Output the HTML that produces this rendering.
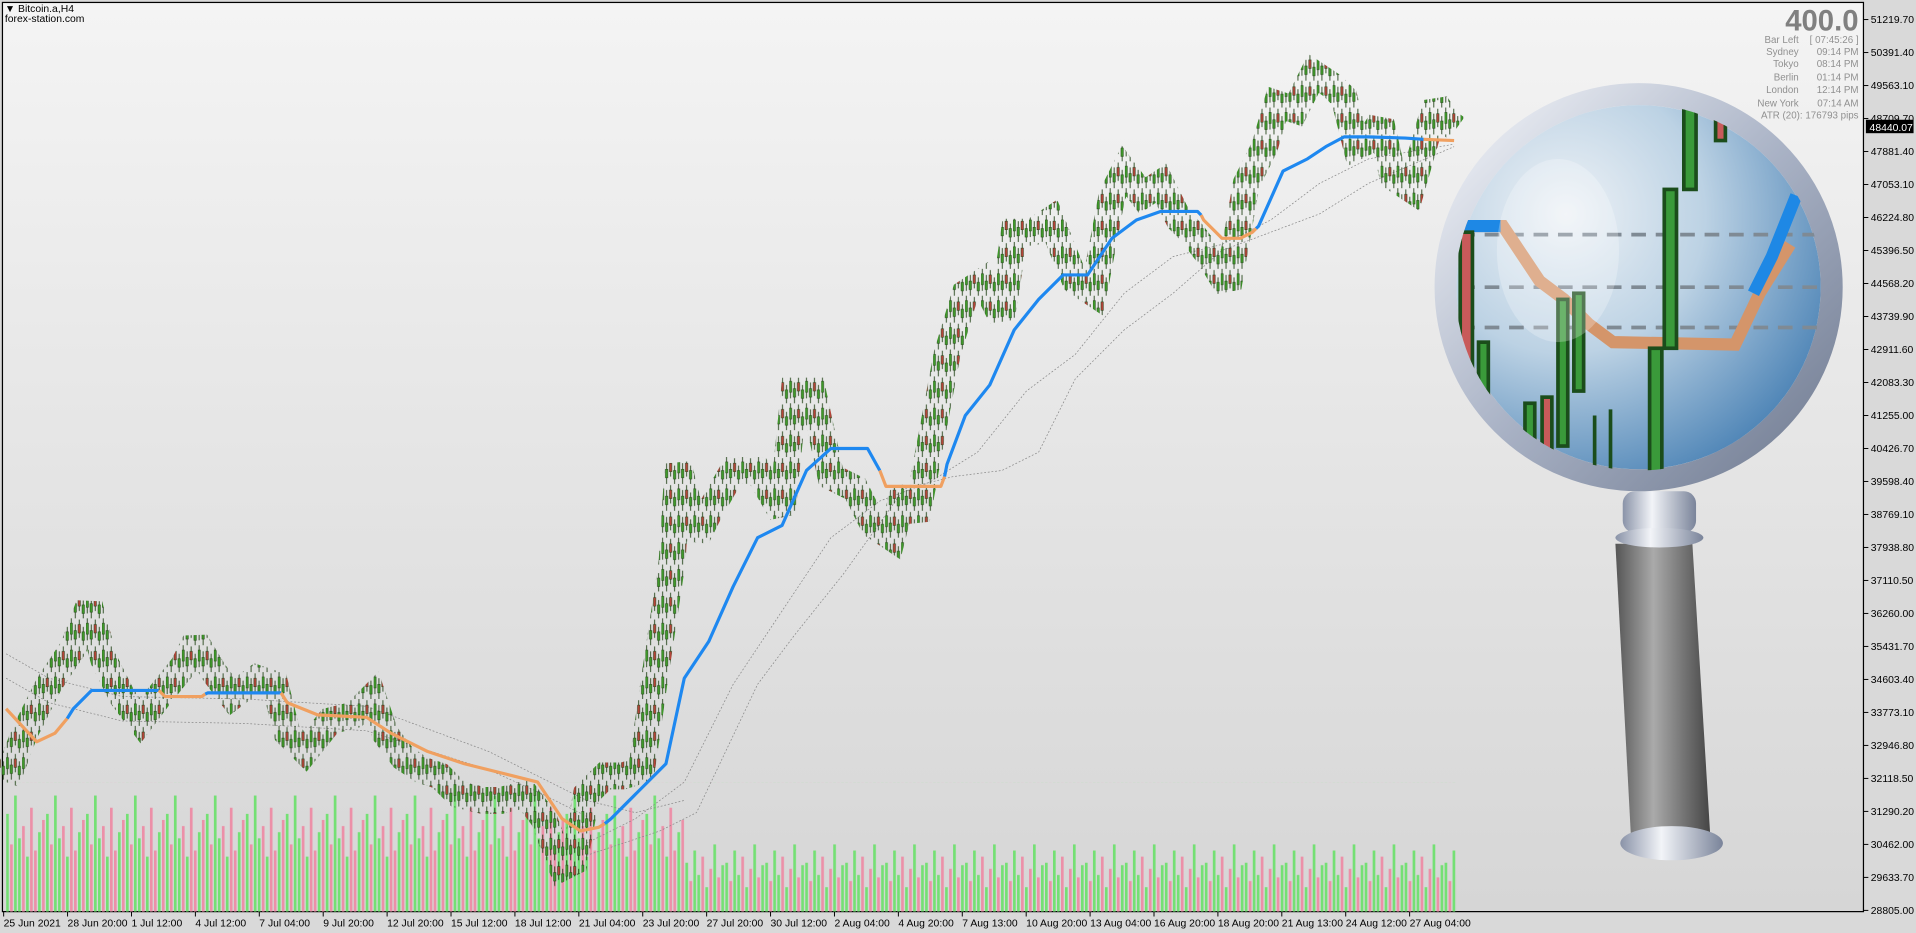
<!DOCTYPE html>
<html><head><meta charset="utf-8"><style>
html,body{margin:0;padding:0;width:1916px;height:933px;overflow:hidden;background:#d9d9d9}
svg{display:block}
text{font-family:"Liberation Sans",sans-serif}
</style></head><body>
<svg width="1916" height="933" viewBox="0 0 1568 763.5" preserveAspectRatio="none" xmlns="http://www.w3.org/2000/svg">
<defs>
<linearGradient id="bg" x1="0" y1="0" x2="0" y2="1"><stop offset="0" stop-color="#f4f4f4"/><stop offset="1" stop-color="#d6d6d6"/></linearGradient>
<radialGradient id="lens" cx="0.3" cy="0.3" r="0.85"><stop offset="0" stop-color="#eef2f6"/><stop offset="0.45" stop-color="#bcd2e4"/><stop offset="1" stop-color="#3f7ab0"/></radialGradient>
<linearGradient id="ring" x1="0" y1="0" x2="1" y2="1"><stop offset="0" stop-color="#f4f6fa"/><stop offset="0.5" stop-color="#aab3c6"/><stop offset="1" stop-color="#6f7a90"/></linearGradient>
<linearGradient id="hand" x1="0" y1="0" x2="1" y2="0"><stop offset="0" stop-color="#555"/><stop offset="0.4" stop-color="#aaa"/><stop offset="1" stop-color="#444"/></linearGradient>
<linearGradient id="col" x1="0" y1="0" x2="1" y2="0"><stop offset="0" stop-color="#8a93a8"/><stop offset="0.4" stop-color="#f2f4f8"/><stop offset="1" stop-color="#7a849a"/></linearGradient>
<clipPath id="lc"><circle cx="1341" cy="235" r="150"/></clipPath>
<pattern id="cp" patternUnits="userSpaceOnUse" x="5" y="0" width="13.08" height="22">
<line x1="1" y1="0" x2="1" y2="18" stroke="#1b3d10" stroke-width="0.7"/>
<rect x="0" y="4" width="2" height="9" fill="#3f9a2a" stroke="#1b3d10" stroke-width="0.4"/>
<line x1="4.27" y1="5" x2="4.27" y2="22" stroke="#1b3d10" stroke-width="0.7"/>
<rect x="3.27" y="10" width="2" height="7" fill="#3f9a2a" stroke="#1b3d10" stroke-width="0.4"/>
<line x1="7.54" y1="1" x2="7.54" y2="16" stroke="#1b3d10" stroke-width="0.7"/>
<rect x="6.54" y="5" width="2" height="7" fill="#b5443a" stroke="#1b3d10" stroke-width="0.4"/>
<line x1="10.81" y1="7" x2="10.81" y2="22" stroke="#1b3d10" stroke-width="0.7"/>
<rect x="9.81" y="11" width="2" height="7" fill="#3f9a2a" stroke="#1b3d10" stroke-width="0.4"/>
</pattern>
<pattern id="v1" patternUnits="userSpaceOnUse" x="5" y="640" width="32.7" height="106">
<rect x="0" y="26" width="2.2" height="80" fill="#74e074"/>
<rect x="3.27" y="51" width="2.2" height="55" fill="#ec90a8"/>
<rect x="6.54" y="11" width="2.2" height="95" fill="#74e074"/>
<rect x="9.81" y="46" width="2.2" height="60" fill="#74e074"/>
<rect x="13.08" y="36" width="2.2" height="70" fill="#ec90a8"/>
<rect x="16.35" y="61" width="2.2" height="45" fill="#74e074"/>
<rect x="19.62" y="21" width="2.2" height="85" fill="#ec90a8"/>
<rect x="22.89" y="56" width="2.2" height="50" fill="#ec90a8"/>
<rect x="26.16" y="41" width="2.2" height="65" fill="#74e074"/>
<rect x="29.43" y="31" width="2.2" height="75" fill="#ec90a8"/>
</pattern>
<pattern id="v2" patternUnits="userSpaceOnUse" x="5" y="640" width="32.7" height="106">
<rect x="0" y="66" width="2.2" height="40" fill="#74e074"/>
<rect x="3.27" y="81" width="2.2" height="25" fill="#ec90a8"/>
<rect x="6.54" y="56" width="2.2" height="50" fill="#74e074"/>
<rect x="9.81" y="76" width="2.2" height="30" fill="#74e074"/>
<rect x="13.08" y="61" width="2.2" height="45" fill="#ec90a8"/>
<rect x="16.35" y="86" width="2.2" height="20" fill="#74e074"/>
<rect x="19.62" y="71" width="2.2" height="35" fill="#ec90a8"/>
<rect x="22.89" y="51" width="2.2" height="55" fill="#74e074"/>
<rect x="26.16" y="78" width="2.2" height="28" fill="#ec90a8"/>
<rect x="29.43" y="68" width="2.2" height="38" fill="#74e074"/>
</pattern>
</defs>
<rect x="0" y="0" width="1568" height="763.5" fill="#d9d9d9"/>
<rect x="2" y="2" width="1523" height="744" fill="url(#bg)" stroke="#000" stroke-width="1"/>
<rect x="5" y="640" width="555" height="106" fill="url(#v1)"/>
<rect x="560" y="640" width="632" height="106" fill="url(#v2)"/>
<g fill="none" stroke="#888" stroke-width="0.6" stroke-dasharray="1.5,1.5">
<polyline points="5,535 40,555 100,570 200,572 300,578 400,615 440,635 480,655 520,665 560,655"/>
<polyline points="5,555 40,575 100,590 200,592 300,598 400,630 440,648 480,668"/>
<polyline points="480,690 520,670 560,640 600,560 640,500 680,440 720,410 760,395 800,370 840,320 880,290 920,240 960,210 1000,200 1040,180 1080,150 1120,130 1190,118"/>
<polyline points="480,700 540,680 570,665 620,560 650,520 690,470 740,400 780,390 820,385 850,370 880,310 920,270 960,240 1000,205 1040,190 1080,175 1120,150 1190,120"/>
</g>
<polyline fill="none" stroke="url(#cp)" stroke-width="22" stroke-linejoin="miter" stroke-miterlimit="2" points="5,640 20,600 40,560 60,530 73,495 85,540 100,570 115,590 130,570 150,545 160,525 175,550 190,570 210,555 225,560 235,600 250,615 270,590 290,585 305,570 315,600 330,620 345,630 360,635 375,650 395,655 410,655 430,650 445,670 460,710 470,705 480,650 495,635 510,635 525,630 535,560 550,460 555,380 570,440 580,420 600,385 620,385 640,420 650,320 665,320 680,390 700,400 715,430 730,440 740,400 750,425 760,370 775,290 790,240 805,230 820,260 830,190 845,190 860,180 880,230 895,240 910,160 920,140 935,160 950,150 965,180 975,190 990,210 1005,235 1020,150 1035,120 1045,85 1060,90 1075,60 1090,70 1100,80 1110,120 1120,115 1130,100 1140,145 1155,155 1165,120 1175,85 1185,100 1192,105"/>
<g fill="none" stroke-width="2.6" stroke-linejoin="round">
<polyline stroke="#f0a060" points="5,580 30,607 45,600 55,588"/>
<polyline stroke="#1e88f0" points="55,588 60,580 75,565 130,565"/>
<polyline stroke="#f0a060" points="130,565 135,570 165,570 168,568"/>
<polyline stroke="#1e88f0" points="168,568 170,567 230,567"/>
<polyline stroke="#f0a060" points="230,567 235,575 260,585 300,587 320,600 350,615 380,625 420,635 440,640 460,670 475,680 490,677 495,674"/>
<polyline stroke="#1e88f0" points="495,674 500,670 520,650 545,625 560,555 580,525 600,480 620,440 640,430 660,385 680,367 710,367 720,385"/>
<polyline stroke="#f0a060" points="720,385 725,398 770,398 773,390"/>
<polyline stroke="#1e88f0" points="773,390 775,380 790,340 810,315 830,270 850,245 870,225 890,225 910,195 930,180 950,173 980,173 983,176"/>
<polyline stroke="#f0a060" points="983,176 985,180 1000,195 1015,195 1025,190 1028,187"/>
<polyline stroke="#1e88f0" points="1028,187 1030,185 1050,140 1070,130 1085,120 1100,112 1120,112 1150,113 1165,114"/>
<polyline stroke="#f0a060" points="1165,114 1190,115"/>
</g>
<text x="4" y="10" font-size="8.5" fill="#000">▼ Bitcoin.a,H4</text>
<text x="4" y="18" font-size="8.5" fill="#000">forex-station.com</text>
<!-- magnifier -->
<g>
<polygon points="1322,445 1385,445 1400,690 1335,690" fill="url(#hand)"/>
<ellipse cx="1368" cy="690" rx="42" ry="14" fill="url(#col)"/>
<rect x="1328" y="402" width="60" height="34" rx="10" fill="url(#col)"/>
<ellipse cx="1358" cy="440" rx="36" ry="8" fill="url(#col)"/>
<circle cx="1341" cy="235" r="158" fill="none" stroke="url(#ring)" stroke-width="18"/>
<circle cx="1341" cy="235" r="149" fill="url(#lens)"/>
<g clip-path="url(#lc)">
<g stroke="#7f8a94" stroke-width="3" stroke-dasharray="12,8" fill="none">
<line x1="1195" y1="192" x2="1490" y2="192"/><line x1="1195" y1="235" x2="1490" y2="235"/><line x1="1195" y1="268" x2="1490" y2="268"/>
</g>
<polyline points="1190,185 1230,185 1240,200 1260,230 1280,245 1300,265 1320,280 1420,282 1440,240 1465,200" fill="none" stroke="#d4956a" stroke-width="10"/>
<polyline points="1190,185 1228,185" fill="none" stroke="#1e88e5" stroke-width="10"/>
<polyline points="1435,240 1450,210 1470,160" fill="none" stroke="#1e88e5" stroke-width="10"/>
<g stroke="#1b4d1b" stroke-width="3">
<rect x="1195" y="190" width="10" height="140" fill="#c85a5a"/>
<rect x="1210" y="280" width="8" height="100" fill="#3a9a3a"/>
<rect x="1248" y="330" width="8" height="60" fill="#3a9a3a"/>
<rect x="1262" y="325" width="8" height="60" fill="#c85a5a"/>
<rect x="1275" y="245" width="8" height="120" fill="#3a9a3a"/>
<rect x="1288" y="240" width="8" height="80" fill="#3a9a3a"/>
<rect x="1350" y="285" width="10" height="110" fill="#3a9a3a"/>
<rect x="1362" y="155" width="10" height="130" fill="#3a9a3a"/>
<rect x="1378" y="85" width="10" height="70" fill="#3a9a3a"/>
<rect x="1404" y="95" width="8" height="20" fill="#c85a5a"/>
<line x1="1305" y1="340" x2="1305" y2="390"/><line x1="1318" y1="335" x2="1318" y2="390"/>
</g>
<ellipse cx="1275" cy="205" rx="50" ry="75" fill="#fff" opacity="0.25"/>
</g>
</g>
<text x="1521" y="25" font-size="24" font-weight="bold" fill="#808080" text-anchor="end">400.0</text>
<g font-size="8" fill="#909090">
<text x="1472" y="35" text-anchor="end">Bar Left</text><text x="1521" y="35" text-anchor="end">[ 07:45:26 ]</text>
<text x="1472" y="45" text-anchor="end">Sydney</text><text x="1521" y="45" text-anchor="end">09:14 PM</text>
<text x="1472" y="55" text-anchor="end">Tokyo</text><text x="1521" y="55" text-anchor="end">08:14 PM</text>
<text x="1472" y="66" text-anchor="end">Berlin</text><text x="1521" y="66" text-anchor="end">01:14 PM</text>
<text x="1472" y="76" text-anchor="end">London</text><text x="1521" y="76" text-anchor="end">12:14 PM</text>
<text x="1472" y="87" text-anchor="end">New York</text><text x="1521" y="87" text-anchor="end">07:14 AM</text>
<text x="1521" y="97" text-anchor="end">ATR (20): 176793 pips</text>
</g>
<g stroke="#000" stroke-width="0.8">
<line x1="1525" y1="16" x2="1529" y2="16"/><line x1="1525" y1="43" x2="1529" y2="43"/><line x1="1525" y1="70" x2="1529" y2="70"/><line x1="1525" y1="97" x2="1529" y2="97"/><line x1="1525" y1="124" x2="1529" y2="124"/><line x1="1525" y1="151" x2="1529" y2="151"/><line x1="1525" y1="178" x2="1529" y2="178"/><line x1="1525" y1="205" x2="1529" y2="205"/><line x1="1525" y1="232" x2="1529" y2="232"/><line x1="1525" y1="259" x2="1529" y2="259"/><line x1="1525" y1="286" x2="1529" y2="286"/><line x1="1525" y1="313" x2="1529" y2="313"/><line x1="1525" y1="340" x2="1529" y2="340"/><line x1="1525" y1="367" x2="1529" y2="367"/><line x1="1525" y1="394" x2="1529" y2="394"/><line x1="1525" y1="421" x2="1529" y2="421"/><line x1="1525" y1="448" x2="1529" y2="448"/><line x1="1525" y1="475" x2="1529" y2="475"/><line x1="1525" y1="502" x2="1529" y2="502"/><line x1="1525" y1="529" x2="1529" y2="529"/><line x1="1525" y1="556" x2="1529" y2="556"/><line x1="1525" y1="583" x2="1529" y2="583"/><line x1="1525" y1="610" x2="1529" y2="610"/><line x1="1525" y1="637" x2="1529" y2="637"/><line x1="1525" y1="664" x2="1529" y2="664"/><line x1="1525" y1="691" x2="1529" y2="691"/><line x1="1525" y1="718" x2="1529" y2="718"/><line x1="1525" y1="745" x2="1529" y2="745"/>
</g>
<g font-size="8.5" fill="#000">
<text x="1531" y="19">51219.70</text><text x="1531" y="46">50391.40</text><text x="1531" y="73">49563.10</text><text x="1531" y="100">48709.70</text><text x="1531" y="127">47881.40</text><text x="1531" y="154">47053.10</text><text x="1531" y="181">46224.80</text><text x="1531" y="208">45396.50</text><text x="1531" y="235">44568.20</text><text x="1531" y="262">43739.90</text><text x="1531" y="289">42911.60</text><text x="1531" y="316">42083.30</text><text x="1531" y="343">41255.00</text><text x="1531" y="370">40426.70</text><text x="1531" y="397">39598.40</text><text x="1531" y="424">38769.10</text><text x="1531" y="451">37938.80</text><text x="1531" y="478">37110.50</text><text x="1531" y="505">36260.00</text><text x="1531" y="532">35431.70</text><text x="1531" y="559">34603.40</text><text x="1531" y="586">33773.10</text><text x="1531" y="613">32946.80</text><text x="1531" y="640">32118.50</text><text x="1531" y="667">31290.20</text><text x="1531" y="694">30462.00</text><text x="1531" y="721">29633.70</text><text x="1531" y="748">28805.00</text>
</g>
<rect x="1527" y="98" width="39" height="11" fill="#000"/>
<text x="1530" y="107" font-size="8.5" fill="#fff">48440.07</text>
<g stroke="#000" stroke-width="0.8">
<line x1="3" y1="746" x2="3" y2="750"/><line x1="55.3" y1="746" x2="55.3" y2="750"/><line x1="107.6" y1="746" x2="107.6" y2="750"/><line x1="159.9" y1="746" x2="159.9" y2="750"/><line x1="212.2" y1="746" x2="212.2" y2="750"/><line x1="264.5" y1="746" x2="264.5" y2="750"/><line x1="316.8" y1="746" x2="316.8" y2="750"/><line x1="369.1" y1="746" x2="369.1" y2="750"/><line x1="421.4" y1="746" x2="421.4" y2="750"/><line x1="473.7" y1="746" x2="473.7" y2="750"/><line x1="526" y1="746" x2="526" y2="750"/><line x1="578.3" y1="746" x2="578.3" y2="750"/><line x1="630.6" y1="746" x2="630.6" y2="750"/><line x1="682.9" y1="746" x2="682.9" y2="750"/><line x1="735.2" y1="746" x2="735.2" y2="750"/><line x1="787.5" y1="746" x2="787.5" y2="750"/><line x1="839.8" y1="746" x2="839.8" y2="750"/><line x1="892.1" y1="746" x2="892.1" y2="750"/><line x1="944.4" y1="746" x2="944.4" y2="750"/><line x1="996.7" y1="746" x2="996.7" y2="750"/><line x1="1049" y1="746" x2="1049" y2="750"/><line x1="1101.3" y1="746" x2="1101.3" y2="750"/><line x1="1153.6" y1="746" x2="1153.6" y2="750"/>
</g>
<g font-size="8.5" fill="#000">
<text x="3" y="758">25 Jun 2021</text><text x="55.3" y="758">28 Jun 20:00</text><text x="107.6" y="758">1 Jul 12:00</text><text x="159.9" y="758">4 Jul 12:00</text><text x="212.2" y="758">7 Jul 04:00</text><text x="264.5" y="758">9 Jul 20:00</text><text x="316.8" y="758">12 Jul 20:00</text><text x="369.1" y="758">15 Jul 12:00</text><text x="421.4" y="758">18 Jul 12:00</text><text x="473.7" y="758">21 Jul 04:00</text><text x="526" y="758">23 Jul 20:00</text><text x="578.3" y="758">27 Jul 20:00</text><text x="630.6" y="758">30 Jul 12:00</text><text x="682.9" y="758">2 Aug 04:00</text><text x="735.2" y="758">4 Aug 20:00</text><text x="787.5" y="758">7 Aug 13:00</text><text x="839.8" y="758">10 Aug 20:00</text><text x="892.1" y="758">13 Aug 04:00</text><text x="944.4" y="758">16 Aug 20:00</text><text x="996.7" y="758">18 Aug 20:00</text><text x="1049" y="758">21 Aug 13:00</text><text x="1101.3" y="758">24 Aug 12:00</text><text x="1153.6" y="758">27 Aug 04:00</text>
</g>
</svg>
</body></html>
